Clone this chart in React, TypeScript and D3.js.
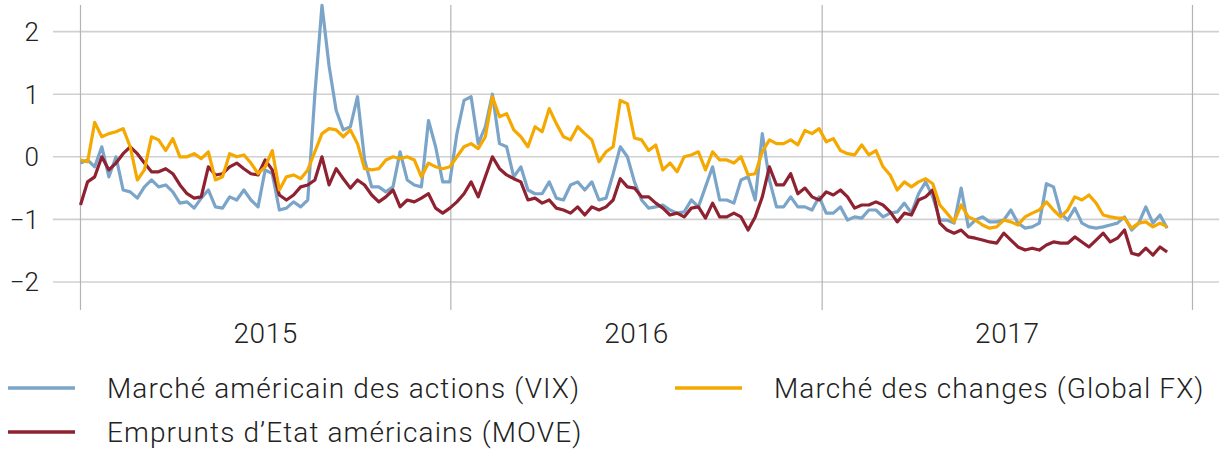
import React from "react";
import * as d3 from "d3";

const START = new Date(2015, 0, 1);
const WEEKS = 154;
const dates: Date[] = d3.range(WEEKS).map((i) => d3.timeDay.offset(START, 7 * i));

const vix: number[] = [
  -0.1, -0.05, -0.16, 0.16, -0.32, 0.0, -0.53, -0.56, -0.66, -0.48,
  -0.37, -0.48, -0.45, -0.56, -0.74, -0.72, -0.82, -0.66, -0.53, -0.8,
  -0.82, -0.64, -0.69, -0.53, -0.69, -0.8, -0.21, -0.27, -0.85, -0.82,
  -0.72, -0.8, -0.69, 1.0, 2.42, 1.45, 0.74, 0.43, 0.48, 0.96,
  -0.05, -0.48, -0.48, -0.56, -0.48, 0.08, -0.37, -0.45, -0.48, 0.58,
  0.16, -0.4, -0.4, 0.37, 0.9, 0.96, 0.21, 0.48, 1.0, 0.21,
  0.16, -0.32, -0.16, -0.53, -0.59, -0.59, -0.4, -0.66, -0.69, -0.45,
  -0.4, -0.53, -0.4, -0.69, -0.66, -0.27, 0.16, 0.0, -0.4, -0.69,
  -0.82, -0.8, -0.77, -0.85, -0.9, -0.88, -0.69, -0.8, -0.48, -0.16,
  -0.69, -0.69, -0.74, -0.37, -0.32, -0.69, 0.37, -0.37, -0.8, -0.8,
  -0.64, -0.8, -0.8, -0.85, -0.64, -0.9, -0.9, -0.8, -1.01, -0.96,
  -0.98, -0.85, -0.85, -0.96, -0.9, -0.88, -0.74, -0.9, -0.59, -0.4,
  -0.64, -1.01, -1.01, -1.06, -0.5, -1.12, -1.01, -0.96, -1.04, -1.04,
  -1.01, -0.85, -1.06, -1.14, -1.12, -1.06, -0.43, -0.48, -0.9, -1.01,
  -0.82, -1.06, -1.12, -1.14, -1.12, -1.09, -1.06, -0.96, -1.17, -1.06,
  -0.8, -1.06, -0.93, -1.14,
];

const move: number[] = [
  -0.77, -0.4, -0.32, 0.0, -0.21, -0.1, 0.05, 0.16, 0.05, -0.1,
  -0.24, -0.24, -0.19, -0.27, -0.45, -0.59, -0.66, -0.64, -0.16, -0.29,
  -0.27, -0.16, -0.1, -0.19, -0.27, -0.29, -0.05, -0.21, -0.61, -0.69,
  -0.61, -0.48, -0.45, -0.37, 0.0, -0.45, -0.19, -0.35, -0.5, -0.37,
  -0.45, -0.61, -0.72, -0.64, -0.53, -0.8, -0.69, -0.72, -0.66, -0.59,
  -0.82, -0.9, -0.82, -0.72, -0.59, -0.4, -0.64, -0.32, 0.0, -0.19,
  -0.29, -0.35, -0.4, -0.69, -0.66, -0.74, -0.69, -0.82, -0.85, -0.9,
  -0.8, -0.93, -0.8, -0.85, -0.8, -0.69, -0.35, -0.48, -0.5, -0.64,
  -0.64, -0.74, -0.82, -0.93, -0.9, -0.96, -0.82, -0.8, -0.98, -0.74,
  -0.96, -0.96, -0.9, -0.96, -1.17, -0.96, -0.64, -0.16, -0.45, -0.45,
  -0.27, -0.59, -0.5, -0.64, -0.69, -0.56, -0.61, -0.53, -0.64, -0.82,
  -0.77, -0.77, -0.72, -0.77, -0.88, -1.04, -0.9, -0.93, -0.69, -0.64,
  -0.53, -1.06, -1.17, -1.22, -1.17, -1.28, -1.3, -1.33, -1.36, -1.38,
  -1.22, -1.33, -1.44, -1.49, -1.46, -1.49, -1.41, -1.36, -1.38, -1.38,
  -1.28, -1.36, -1.44, -1.33, -1.22, -1.36, -1.3, -1.17, -1.54, -1.57,
  -1.46, -1.57, -1.44, -1.52,
];

const fx: number[] = [
  -0.05, -0.08, 0.55, 0.32, 0.37, 0.4, 0.45, 0.16, -0.37, -0.21,
  0.32, 0.27, 0.1, 0.29, 0.0, 0.0, 0.05, -0.03, 0.08, -0.37,
  -0.32, 0.05, 0.0, 0.03, -0.1, -0.27, -0.16, 0.1, -0.53, -0.32,
  -0.29, -0.35, -0.21, 0.08, 0.37, 0.45, 0.43, 0.32, 0.43, 0.21,
  -0.19, -0.21, -0.19, -0.05, 0.0, -0.03, 0.0, -0.05, -0.32, -0.1,
  -0.16, -0.19, -0.16, 0.0, 0.16, 0.21, 0.13, 0.32, 0.96, 0.64,
  0.69, 0.43, 0.32, 0.16, 0.48, 0.4, 0.77, 0.53, 0.32, 0.27,
  0.48, 0.37, 0.27, -0.08, 0.08, 0.16, 0.9, 0.85, 0.3, 0.27,
  0.1, 0.19, -0.21, -0.1, -0.24, 0.0, 0.03, 0.08, -0.21, 0.08,
  -0.05, -0.05, -0.1, 0.0, -0.29, -0.27, 0.08, 0.27, 0.21, 0.21,
  0.27, 0.19, 0.42, 0.37, 0.45, 0.24, 0.29, 0.1, 0.05, 0.03,
  0.19, 0.03, 0.1, -0.16, -0.29, -0.53, -0.4, -0.48, -0.4, -0.35,
  -0.43, -0.77, -0.9, -1.04, -0.77, -0.96, -1.01, -1.09, -1.14, -1.12,
  -1.01, -1.04, -1.09, -0.96, -0.9, -0.85, -0.72, -0.85, -0.96, -0.85,
  -0.64, -0.69, -0.61, -0.74, -0.93, -0.96, -0.98, -0.98, -1.14, -1.06,
  -1.04, -1.12, -1.06, -1.12,
];

const yTicks: number[] = [2, 1, 0, -1, -2];
const yearTicks: Date[] = [new Date(2015, 0, 1), new Date(2016, 0, 1), new Date(2017, 0, 1), new Date(2018, 0, 1)];
const yearLabels: string[] = ["2015", "2016", "2017"];

const seriesNames: string[] = [
  "Marché américain des actions (VIX)",
  "Emprunts d’Etat américains (MOVE)",
  "Marché des changes (Global FX)",
];
const colors: string[] = ["#7ba4c9", "#8e2230", "#f5a800"];

const W = 1225;
const H = 450;
const FONT = "Roboto, 'Liberation Sans', sans-serif";

export default function App() {
  const x = d3
    .scaleTime()
    .domain([new Date(2015, 0, 1), new Date(2018, 0, 1)])
    .range([80.5, 1192.5]);
  const y = d3.scaleLinear().domain([-2, 2]).range([282, 31.6]);

  const line = d3
    .line<number>()
    .x((_, i) => x(dates[i]))
    .y((d) => y(d));

  const series = [vix, move, fx];
  const drawOrder = [0, 1, 2];

  return (
    <svg
      width={W}
      height={H}
      style={{ position: "absolute", left: 0, top: 0, background: "#fff" }}
      fontFamily={FONT}
    >
      {yTicks.map((t) => (
        <g key={t}>
          <line x1={53} x2={1219} y1={y(t)} y2={y(t)} stroke="#d0d0d0" strokeWidth={1.6} />
          <text
            x={39}
            y={y(t)}
            dy="0.36em"
            textAnchor="end"
            fontSize={26}
            fontWeight={300}
            fill="#222"
          >
            {t < 0 ? "\u2212" + Math.abs(t) : String(t)}
          </text>
        </g>
      ))}
      {yearTicks.map((d, i) => (
        <line key={i} x1={x(d)} x2={x(d)} y1={5} y2={310} stroke="#b4b4b4" strokeWidth={1.2} />
      ))}
      {yearLabels.map((lab, i) => (
        <text
          key={lab}
          x={(x(yearTicks[i]) + x(yearTicks[i + 1])) / 2}
          y={343}
          textAnchor="middle"
          fontSize={28}
          fontWeight={300}
          letterSpacing={0.6}
          fill="#222"
        >
          {lab}
        </text>
      ))}
      {drawOrder.map((k) => (
        <path
          key={k}
          d={line(series[k]) || ""}
          fill="none"
          stroke={colors[k]}
          strokeWidth={3.2}
          strokeLinejoin="round"
        />
      ))}
      {[
        { k: 0, lx: 8, ty: 388 },
        { k: 1, lx: 8, ty: 432 },
        { k: 2, lx: 675, ty: 388 },
      ].map(({ k, lx, ty }) => (
        <g key={k}>
          <line x1={lx} x2={lx + 67} y1={ty} y2={ty} stroke={colors[k]} strokeWidth={3.5} />
          <text
            x={lx + 99}
            y={ty}
            dy="0.36em"
            fontSize={28}
            fontWeight={300}
            letterSpacing={1.1}
            fill="#222"
          >
            {seriesNames[k]}
          </text>
        </g>
      ))}
    </svg>
  );
}
